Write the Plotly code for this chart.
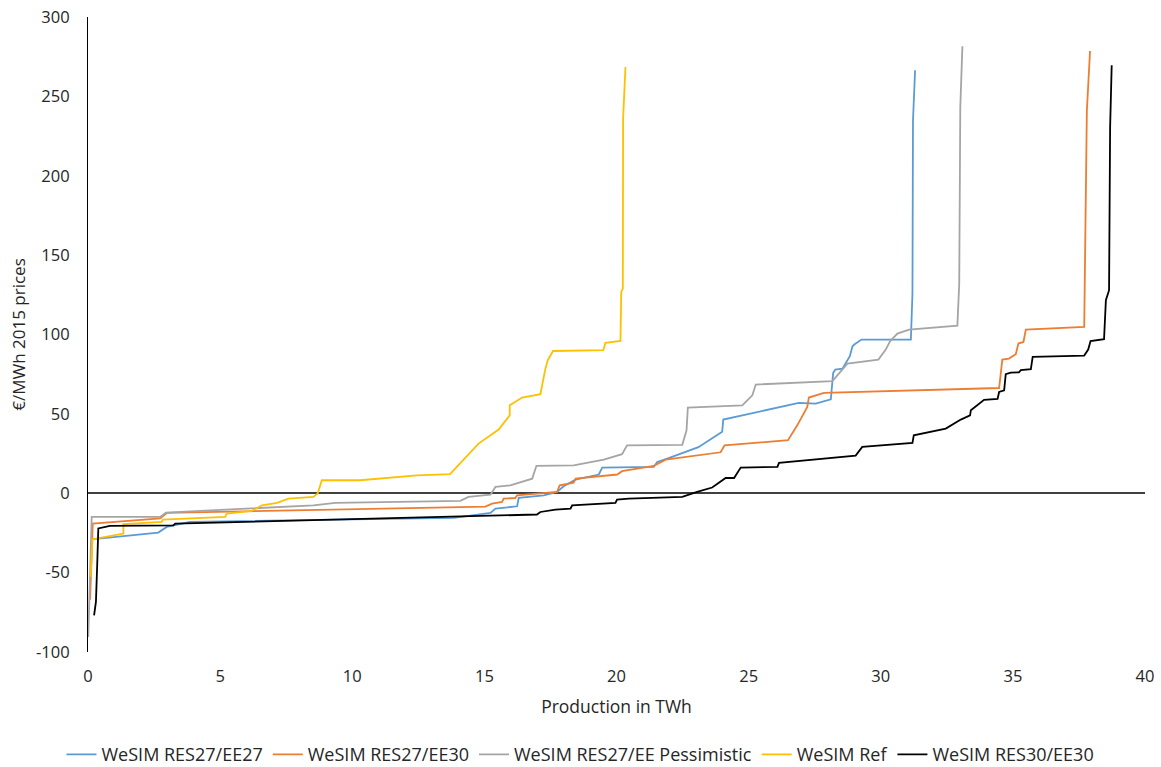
import plotly.graph_objects as go

# Price duration curves: production (TWh) vs. price (EUR/MWh, 2015 prices)
res27_ee27_x = [0.12, 2.66, 2.98, 3.86, 13.84, 15.23, 15.42, 16.24, 16.3, 17.25, 17.75, 18.0, 18.45,
                19.33, 19.46, 21.41, 21.54, 21.92, 23.1, 24.0, 24.04, 24.32, 26.9, 27.54, 28.11, 28.2,
                28.28, 28.55, 28.83, 28.93, 29.0, 29.27, 31.14, 31.2, 31.22, 31.3]
res27_ee27_y = [-29, -24.8, -21.2, -18, -15.5, -12.4, -9.7, -8.2, -2.9, -1.3, 0.8, 4.4, 8.6,
                11.8, 16.2, 16.6, 19.7, 21.8, 29, 38.8, 46.4, 47.4, 56.9, 56.5, 59.2, 75.8,
                77.9, 78.5, 86.3, 92.6, 93.7, 96.8, 96.8, 125.8, 235, 266.5]

res27_ee30_x = [0.08, 0.18, 2.73, 2.98, 15.04, 15.29, 15.67, 15.73, 16.17, 16.24, 17.75, 17.85, 18.38,
                18.45, 20.03, 20.21, 21.41, 21.86, 23.94, 24.09, 26.49, 26.84, 27.22, 27.28, 27.85,
                34.48, 34.6, 34.85, 35.11, 35.21, 35.4, 35.49, 37.7, 37.8, 37.92]
res27_ee30_y = [-67, -19.1, -15.9, -12.4, -8.4, -6.5, -5.5, -3.4, -3.0, -1.3, 0.8, 5.0, 6.7,
                9.2, 11.8, 13.9, 17.2, 21.2, 25.8, 30.2, 33.4, 42.8, 54.4, 60.3, 63.2,
                66.3, 84.2, 84.8, 87.6, 94.3, 95.3, 103.1, 104.8, 241, 278.6]

res27_pess_x = [0.01, 0.14, 2.73, 2.95, 8.53, 9.36, 14.09, 14.4, 15.23, 15.42, 15.98, 16.81, 16.97,
                18.38, 19.52, 20.21, 20.4, 22.49, 22.65, 22.7, 24.76, 25.14, 25.27, 28.17, 28.74,
                29.91, 30.19, 30.35, 30.63, 31.07, 32.9, 32.97, 33.01, 33.09]
res27_pess_y = [-90.5, -14.9, -14.9, -12.2, -7.6, -6.1, -4.8, -2.3, -0.9, 4.0, 5.0, 9.2, 17.3,
                17.6, 21.2, 24.6, 30.2, 30.5, 39.7, 54.0, 55.4, 61.7, 68.5, 70.6, 81.7,
                84.2, 90.5, 95.7, 100.6, 103.1, 105.5, 132, 243, 281.6]

ref_x = [0.1, 0.17, 1.34, 1.34, 2.79, 2.83, 5.19, 5.25, 6.2, 6.58, 7.15, 7.59, 8.53, 8.69, 8.85,
         10.3, 12.45, 13.7, 14.78, 15.54, 15.96, 15.96, 16.43, 16.87, 17.12, 17.31, 17.4, 17.6,
         19.5, 19.58, 20.15, 20.18, 20.24, 20.25, 20.34]
ref_y = [-52.7, -29, -25.4, -19.5, -18, -16.6, -14.9, -12.8, -11.1, -7.6, -6.1, -3.4, -2.3, -0.2, 8.2,
         8.2, 11.3, 12.0, 31.3, 40.1, 49.1, 55.4, 60.3, 61.9, 62.4, 78.5, 83.8, 89.6,
         90.1, 94.7, 95.9, 126.8, 128.9, 236, 268.6]

res30_ee30_x = [0.23, 0.3, 0.35, 0.39, 0.83, 3.23, 3.3, 16.99, 17.12, 17.69, 18.26, 18.32, 19.96,
                20.02, 20.47, 22.49, 23.05, 23.31, 23.62, 24.13, 24.45, 24.7, 26.09, 26.15, 29.05,
                29.3, 31.2, 31.25, 32.46, 33.03, 33.38, 33.41, 33.91, 34.42, 34.48, 34.67, 34.73,
                34.92, 35.23, 35.3, 35.68, 35.75, 37.7, 37.85, 37.94, 38.45, 38.52, 38.64, 38.68, 38.74]
res30_ee30_y = [-76.9, -68.5, -44.3, -22.2, -20.6, -20.2, -19.1, -13.4, -11.8, -10.3, -9.7, -7.6, -6.1,
                -4.0, -3.4, -2.3, 0.8, 2.3, 3.6, 9.6, 9.6, 16.2, 16.6, 19.1, 23.7,
                29.2, 31.7, 36.5, 40.7, 46.4, 49.1, 52.3, 58.8, 59.4, 63.8, 64.8, 75.0,
                76.0, 76.2, 77.5, 78.1, 85.9, 86.7, 90.5, 95.9, 97.0, 121.6, 127.9, 230.7, 269.6]

# Axis ticks
x_ticks = [0, 5, 10, 15, 20, 25, 30, 35, 40]
y_ticks = [-100, -50, 0, 50, 100, 150, 200, 250, 300]
y_tick_labels = ["-100", "-50", "0", "50", "100", "150", "200", "250", "300"]

series = [
    ("WeSIM RES27/EE27", res27_ee27_x, res27_ee27_y, "#5B9BD5"),
    ("WeSIM RES27/EE30", res27_ee30_x, res27_ee30_y, "#ED7D31"),
    ("WeSIM RES27/EE Pessimistic", res27_pess_x, res27_pess_y, "#A5A5A5"),
    ("WeSIM Ref", ref_x, ref_y, "#FFC000"),
    ("WeSIM RES30/EE30", res30_ee30_x, res30_ee30_y, "#000000"),
]

FONT = "Open Sans"
TEXT = "#262626"

fig = go.Figure()
for name, xs, ys, color in series:
    fig.add_trace(go.Scatter(x=xs, y=ys, mode="lines", name=name,
                             line=dict(color=color, width=1.8)))

fig.update_layout(
    width=1161, height=767,
    paper_bgcolor="white", plot_bgcolor="white",
    margin=dict(l=88, r=16, t=17, b=115),
    font=dict(family=FONT, size=17, color=TEXT),
    showlegend=True,
    legend=dict(orientation="h", xref="container", yref="container",
                x=0.5, xanchor="center", y=0.016, yanchor="middle",
                font=dict(family=FONT, size=18, color=TEXT),
                itemwidth=30, tracegroupgap=0),
    xaxis=dict(range=[0, 40], tickvals=x_ticks, showgrid=False, zeroline=False, showline=False,
               automargin=False,
               ticks="outside", ticklen=9, tickcolor="rgba(0,0,0,0)",
               tickfont=dict(family=FONT, size=16.5, color=TEXT),
               title=dict(text="Production in TWh", standoff=14,
                          font=dict(family=FONT, size=17.5, color=TEXT))),
    yaxis=dict(range=[-100, 300], tickvals=y_ticks, ticktext=y_tick_labels, showgrid=False,
               automargin=False,
               zeroline=True, zerolinecolor="#404040", zerolinewidth=1.5,
               showline=True, linecolor="#000000", linewidth=1.2,
               ticks="outside", ticklen=14, tickcolor="rgba(0,0,0,0)",
               tickfont=dict(family=FONT, size=16.5, color=TEXT),
               title=dict(text="€/MWh 2015 prices", standoff=6,
                          font=dict(family=FONT, size=17, color=TEXT))),
)

fig.write_html("out.html")
